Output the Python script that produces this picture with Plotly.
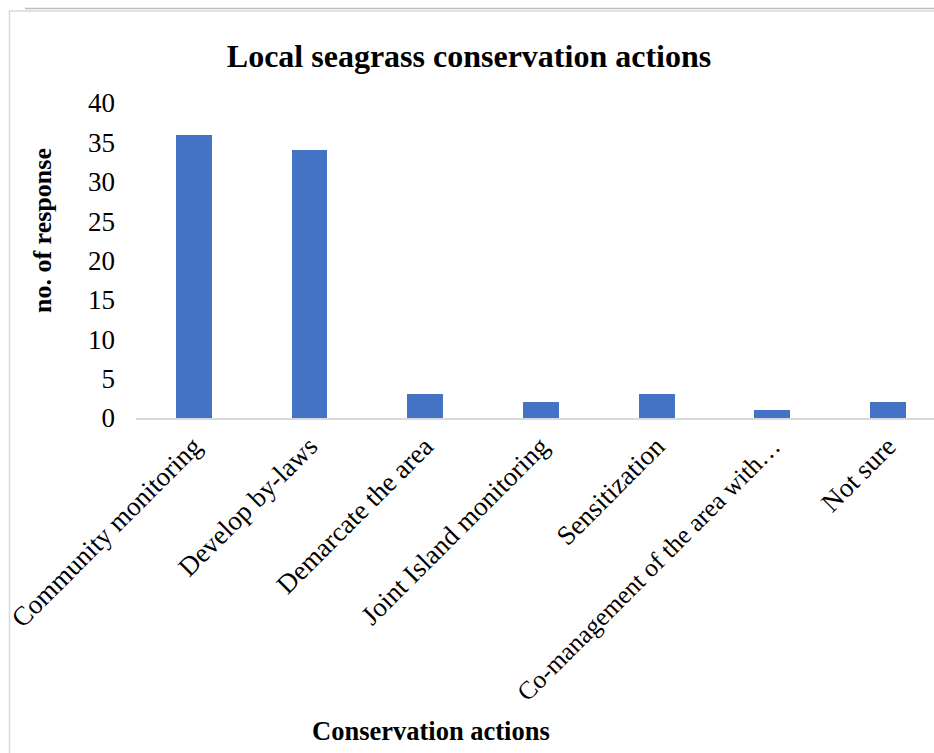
import plotly.graph_objects as go

categories = [
    "Community monitoring",
    "Develop by-laws",
    "Demarcate the area",
    "Joint Island monitoring",
    "Sensitization",
    "Co-management of the area with…",
    "Not sure",
]
responses = [36, 34, 3, 2, 3, 1, 2]
y_ticks = [0, 5, 10, 15, 20, 25, 30, 35, 40]

W, H = 934, 753
ML, MR, MT, MB = 136, 0, 103, 335
PW, PH = W - ML - MR, H - MT - MB
slot = 115.7  # pixel width of one category slot

positions = list(range(len(categories)))

# the truncated label is set a touch tighter than the others
tick_text = [
    f'<span style="font-size:25.5px">{c}</span>' if c.endswith("…") else c
    for c in categories
]

fig = go.Figure(
    go.Bar(
        x=positions,
        y=responses,
        width=0.31,
        marker=dict(color="#4472C4", line=dict(width=0)),
    )
)


def px_x(p):
    return (p - ML) / PW


def px_y(p):
    return (H - MB - p) / PH


# light frame around the chart
fig.add_shape(type="line", xref="paper", yref="paper",
              x0=px_x(9), x1=px_x(934), y0=px_y(11), y1=px_y(11),
              line=dict(color="#d9d9d9", width=1.5))
fig.add_shape(type="line", xref="paper", yref="paper",
              x0=px_x(25), x1=px_x(934), y0=px_y(8.5), y1=px_y(8.5),
              line=dict(color="#bfbfbf", width=1.5))
fig.add_shape(type="line", xref="paper", yref="paper",
              x0=px_x(9.5), x1=px_x(9.5), y0=px_y(11), y1=px_y(753),
              line=dict(color="#d9d9d9", width=1.5))

font_family = "Liberation Serif, Times New Roman, serif"

fig.update_layout(
    width=W,
    height=H,
    margin=dict(l=ML, r=MR, t=MT, b=MB, pad=0),
    paper_bgcolor="white",
    plot_bgcolor="white",
    showlegend=False,
    font=dict(family=font_family, color="black", size=27),
    title=dict(
        text="<b>Local seagrass conservation actions</b>",
        x=469 / W,
        xanchor="center",
        y=1 - 56 / H,
        yanchor="middle",
        font=dict(family=font_family, size=32, color="black"),
    ),
    bargap=0,
)

fig.update_xaxes(
    range=[-0.5, -0.5 + PW / slot],
    tickmode="array",
    tickvals=positions,
    ticktext=tick_text,
    tickangle=-45,
    showgrid=False,
    zeroline=False,
    showline=True,
    linecolor="#d9d9d9",
    linewidth=1.5,
    ticks="",
    tickfont=dict(family=font_family, size=27, color="black"),
)

fig.update_yaxes(
    range=[0, 40],
    tickmode="array",
    tickvals=y_ticks,
    showgrid=False,
    zeroline=False,
    showline=False,
    ticks="",
    ticklabelstandoff=20,
    tickfont=dict(family=font_family, size=27, color="black"),
)

fig.add_annotation(
    text="<b>no. of response</b>",
    xref="paper", yref="paper",
    x=px_x(42), y=px_y(231),
    textangle=-90, showarrow=False,
    xanchor="center", yanchor="middle",
    font=dict(family=font_family, size=26, color="black"),
)
fig.add_annotation(
    text="<b>Conservation actions</b>",
    xref="paper", yref="paper",
    x=px_x(431), y=px_y(731),
    showarrow=False,
    xanchor="center", yanchor="middle",
    font=dict(family=font_family, size=26.5, color="black"),
)

fig.write_html("out.html")
